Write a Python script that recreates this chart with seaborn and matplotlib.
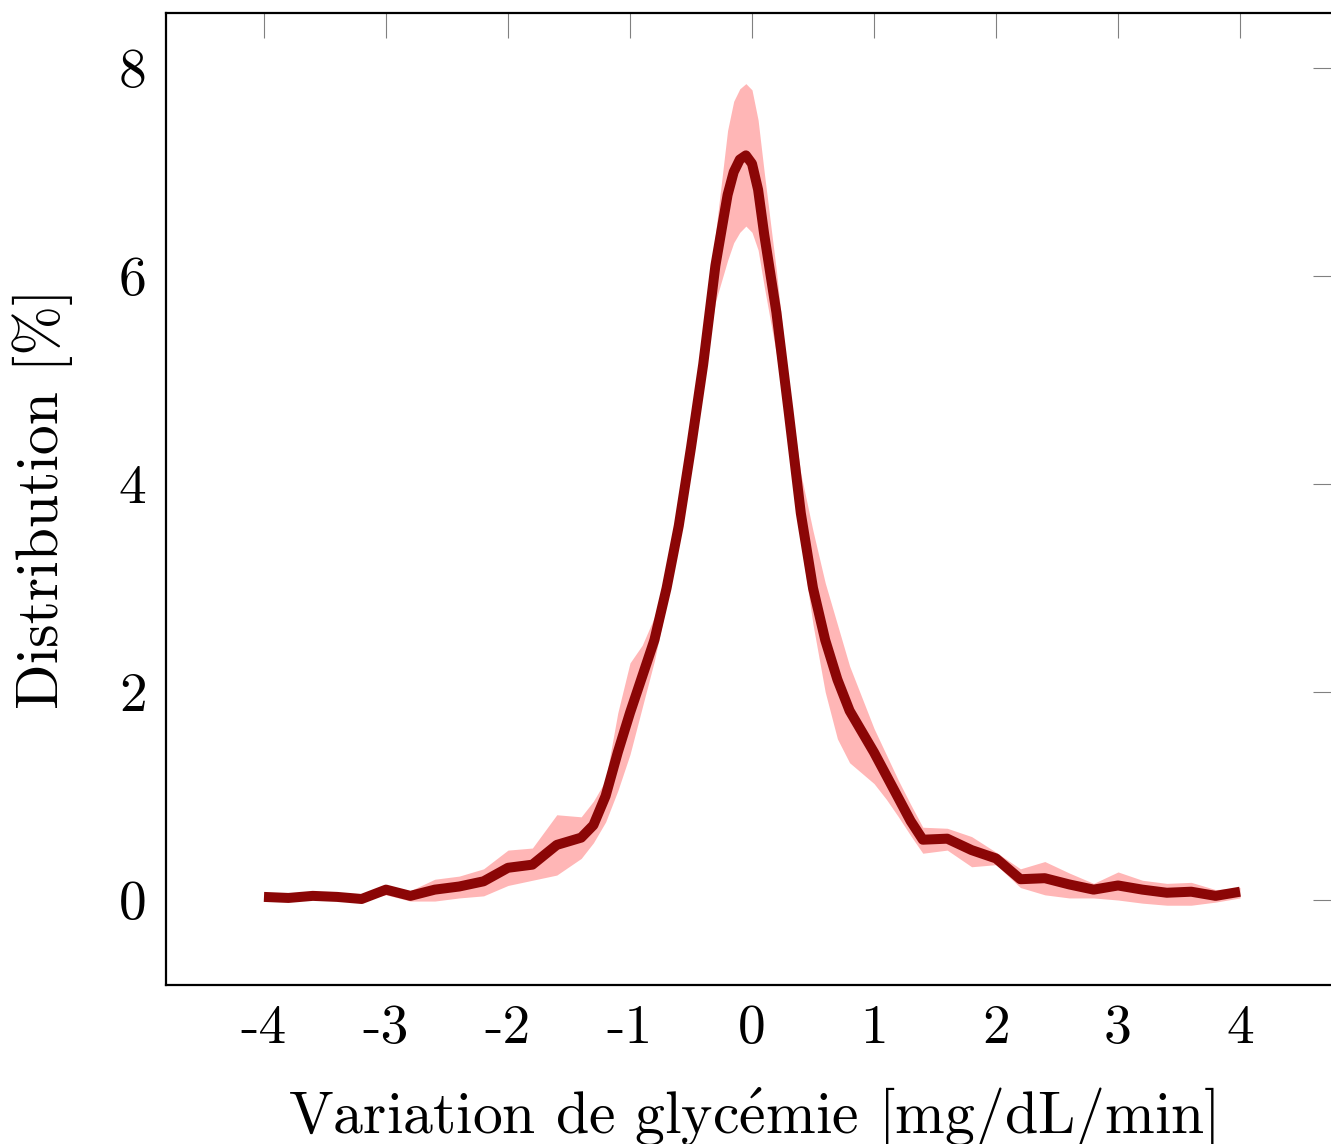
import numpy as np
import pandas as pd
import matplotlib
matplotlib.use("Agg")
import matplotlib.pyplot as plt
import seaborn as sns

# ---- data ----
x_vals = [-4.0, -3.8, -3.6, -3.4, -3.2, -3.0, -2.8, -2.6, -2.4, -2.2, -2.0, -1.8, -1.6,
          -1.4, -1.3, -1.2, -1.1, -1.0, -0.9, -0.8, -0.7, -0.6, -0.5, -0.4, -0.3, -0.2,
          -0.15, -0.1, -0.05, 0.0, 0.05, 0.1, 0.2, 0.3, 0.4, 0.5, 0.6, 0.7, 0.8, 0.9, 1.0,
          1.1, 1.2, 1.3, 1.4, 1.6, 1.8, 2.0, 2.2, 2.4, 2.6, 2.8, 3.0, 3.2, 3.4, 3.6, 3.8, 4.0]
mean_vals = [0.03, 0.02, 0.04, 0.03, 0.01, 0.10, 0.04, 0.10, 0.13, 0.18, 0.31, 0.34, 0.53,
             0.60, 0.72, 1.00, 1.42, 1.80, 2.15, 2.50, 3.00, 3.60, 4.35, 5.15, 6.10, 6.78,
             7.00, 7.12, 7.16, 7.08, 6.83, 6.40, 5.65, 4.70, 3.72, 3.00, 2.50, 2.12, 1.82,
             1.62, 1.42, 1.20, 0.98, 0.76, 0.58, 0.59, 0.48, 0.40, 0.20, 0.21, 0.15, 0.10,
             0.14, 0.10, 0.07, 0.08, 0.04, 0.08]
lower_vals = [0.02, 0.01, 0.03, 0.02, 0.00, 0.05, -0.01, -0.01, 0.02, 0.04, 0.14, 0.19, 0.24,
              0.40, 0.55, 0.75, 1.05, 1.40, 1.85, 2.30, 2.85, 3.45, 4.20, 5.00, 5.75, 6.15,
              6.32, 6.42, 6.48, 6.42, 6.25, 5.90, 5.25, 4.45, 3.45, 2.65, 2.00, 1.55, 1.32,
              1.22, 1.12, 0.97, 0.80, 0.62, 0.45, 0.48, 0.32, 0.34, 0.12, 0.05, 0.02, 0.02,
              0.00, -0.03, -0.05, -0.05, -0.02, 0.02]
upper_vals = [0.04, 0.03, 0.05, 0.04, 0.02, 0.14, 0.09, 0.20, 0.23, 0.30, 0.48, 0.50, 0.82,
              0.80, 0.95, 1.15, 1.80, 2.28, 2.45, 2.72, 3.15, 3.75, 4.50, 5.30, 6.40, 7.40,
              7.68, 7.80, 7.85, 7.79, 7.50, 7.00, 6.05, 4.95, 4.10, 3.55, 3.05, 2.65, 2.25,
              1.95, 1.65, 1.40, 1.15, 0.92, 0.70, 0.69, 0.61, 0.46, 0.30, 0.37, 0.26, 0.16,
              0.27, 0.19, 0.16, 0.17, 0.10, 0.12]
x_ticks = [-4, -3, -2, -1, 0, 1, 2, 3, 4]
x_ticklabels = ["-4", "-3", "-2", "-1", "0", "1", "2", "3", "4"]
y_ticks = [0, 2, 4, 6, 8]
y_ticklabels = ["0", "2", "4", "6", "8"]

df = pd.DataFrame({"x": x_vals, "mean": mean_vals, "lower": lower_vals, "upper": upper_vals})

sns.set_style("white")
plt.rcParams["font.family"] = ["cmr10", "DejaVu Serif"]
plt.rcParams["mathtext.fontset"] = "cm"
plt.rcParams["axes.formatter.use_mathtext"] = True
plt.rcParams["text.color"] = "black"
plt.rcParams["axes.labelcolor"] = "black"
plt.rcParams["xtick.labelcolor"] = "black"
plt.rcParams["ytick.labelcolor"] = "black"

W, H = 1331, 1144
fig = plt.figure(figsize=(W / 100, H / 100), dpi=100)
left_px, right_px, top_px, bottom_px = 166, 1338, 13, 985
ax = fig.add_axes([left_px / W, 1 - bottom_px / H, (right_px - left_px) / W, (bottom_px - top_px) / H])

ax.fill_between(df["x"], df["lower"], df["upper"], color="#ffb6b6", linewidth=0, zorder=1)
sns.lineplot(data=df, x="x", y="mean", ax=ax, color="#8b0606", linewidth=7.2,
             solid_capstyle="butt", solid_joinstyle="round", zorder=2)

ax.set_xlim(-4.803, 4.803)
ax.set_ylim(-0.817, 8.529)

ax.set_xticks(x_ticks)
ax.set_xticklabels(x_ticklabels)
ax.set_yticks(y_ticks)
ax.set_yticklabels(y_ticklabels)
ax.tick_params(axis="both", which="major", direction="in", length=18, width=0.8,
               color="#808080", labelcolor="black", labelsize=40, top=True, right=True)
ax.tick_params(axis="x", pad=14)
ax.tick_params(axis="y", pad=14)

for sp in ax.spines.values():
    sp.set_color("black")
    sp.set_linewidth(1.6)
    sp.set_visible(True)

ax.set_xlabel(r"Variation de glyc$\mathrm{\acute{e}}$mie [mg/dL/min]", fontsize=43, color="black")
ax.set_ylabel("Distribution [%]", fontsize=43, color="black")
ax.xaxis.set_label_coords(0.5, -0.103)
ax.yaxis.set_label_coords(-0.079, 0.5)

fig.savefig("out.png", dpi=100)
